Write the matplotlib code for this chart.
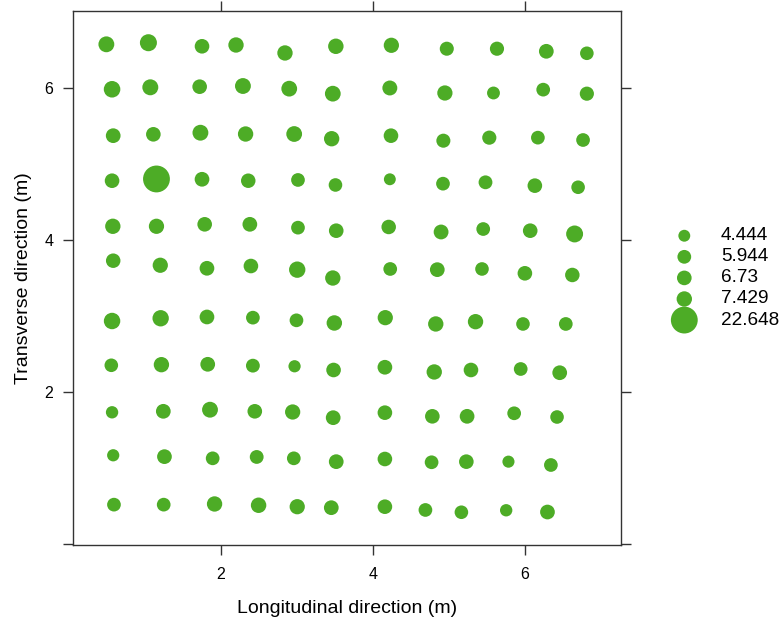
import matplotlib
matplotlib.use('Agg')
import matplotlib.pyplot as plt
import numpy as np

plt.rcParams['font.family'] = ['Liberation Sans', 'DejaVu Sans']

# coordinate del grigliato (m), riga per riga dall'alto
x_rows = [
    [0.496, 1.049, 1.754, 2.201, 2.845, 3.514, 4.244, 4.973, 5.633, 6.282, 6.815],
    [0.571, 1.074, 1.723, 2.292, 2.901, 3.474, 4.224, 4.948, 5.587, 6.241, 6.815],
    [0.586, 1.114, 1.733, 2.327, 2.966, 3.459, 4.239, 4.928, 5.532, 6.171, 6.765],
    [0.571, 1.155, 1.754, 2.362, 3.016, 3.509, 4.224, 4.923, 5.482, 6.131, 6.700],
    [0.581, 1.155, 1.789, 2.383, 3.016, 3.519, 4.209, 4.898, 5.452, 6.070, 6.654],
    [0.586, 1.205, 1.819, 2.397, 3.006, 3.474, 4.229, 4.848, 5.436, 6.000, 6.624],
    [0.571, 1.210, 1.819, 2.423, 2.996, 3.494, 4.164, 4.828, 5.351, 5.975, 6.538],
    [0.561, 1.220, 1.829, 2.423, 2.971, 3.484, 4.159, 4.808, 5.291, 5.945, 6.458],
    [0.571, 1.245, 1.859, 2.448, 2.946, 3.479, 4.159, 4.783, 5.240, 5.859, 6.423],
    [0.586, 1.260, 1.894, 2.473, 2.961, 3.519, 4.159, 4.773, 5.230, 5.784, 6.342],
    [0.596, 1.250, 1.919, 2.498, 3.006, 3.454, 4.159, 4.692, 5.165, 5.754, 6.297],
]
y_rows = [
    [6.575, 6.596, 6.549, 6.566, 6.461, 6.549, 6.562, 6.517, 6.517, 6.483, 6.457],
    [5.983, 6.009, 6.017, 6.026, 5.991, 5.925, 6.000, 5.934, 5.934, 5.978, 5.925],
    [5.372, 5.390, 5.411, 5.394, 5.394, 5.332, 5.372, 5.306, 5.346, 5.346, 5.315],
    [4.779, 4.802, 4.798, 4.779, 4.789, 4.723, 4.798, 4.740, 4.758, 4.714, 4.693],
    [4.179, 4.179, 4.205, 4.205, 4.161, 4.121, 4.170, 4.104, 4.143, 4.121, 4.078],
    [3.726, 3.666, 3.626, 3.656, 3.608, 3.498, 3.617, 3.608, 3.617, 3.560, 3.538],
    [2.932, 2.968, 2.985, 2.976, 2.941, 2.906, 2.976, 2.893, 2.923, 2.893, 2.893],
    [2.349, 2.357, 2.362, 2.344, 2.336, 2.287, 2.323, 2.261, 2.287, 2.300, 2.251],
    [1.730, 1.743, 1.764, 1.743, 1.734, 1.659, 1.725, 1.677, 1.677, 1.717, 1.668],
    [1.164, 1.146, 1.124, 1.142, 1.124, 1.080, 1.115, 1.072, 1.080, 1.080, 1.036],
    [0.514, 0.514, 0.523, 0.506, 0.487, 0.474, 0.487, 0.444, 0.414, 0.440, 0.417],
]
z_rows = [
    [7.9, 9.1, 6.7, 7.4, 7.4, 7.5, 7.3, 6.2, 6.3, 6.8, 5.8],
    [8.6, 8.0, 6.7, 7.9, 7.8, 7.8, 7.0, 7.3, 5.2, 5.9, 6.3],
    [6.8, 6.7, 7.9, 7.4, 7.8, 7.4, 6.7, 6.2, 6.3, 5.9, 5.9],
    [6.7, 22.648, 6.8, 6.6, 5.9, 5.8, 4.444, 5.9, 6.0, 6.7, 5.8],
    [7.4, 7.3, 6.7, 6.8, 5.9, 6.7, 6.6, 6.9, 5.9, 6.7, 9.0],
    [6.6, 7.3, 6.8, 6.7, 8.4, 7.4, 5.9, 6.8, 5.8, 6.7, 6.6],
    [8.5, 8.4, 6.8, 5.9, 5.9, 7.5, 7.3, 7.4, 7.4, 5.8, 5.9],
    [5.8, 7.4, 6.8, 6.0, 4.7, 6.7, 6.8, 7.4, 6.7, 5.9, 6.8],
    [4.8, 6.8, 7.9, 6.7, 7.3, 6.8, 6.7, 6.7, 6.8, 5.9, 5.8],
    [4.7, 6.8, 5.9, 6.0, 5.9, 6.8, 6.7, 5.9, 6.7, 4.6, 5.9],
    [5.9, 5.9, 7.4, 7.5, 7.3, 6.8, 6.7, 5.9, 5.8, 4.8, 6.8],
]
key_values = [4.444, 5.944, 6.73, 7.429, 22.648]
key_labels = ['4.444', '5.944', '6.73', '7.429', '22.648']

col = '#4DAC26'
scale = 16.5  # pt^2 per unita' di z

x = np.array(x_rows).ravel()
y = np.array(y_rows).ravel()
z = np.array(z_rows).ravel()

fig = plt.figure(figsize=(7.84, 6.2), dpi=100)
ax = fig.add_axes([0.0927, 0.121, 0.699, 0.8618])

ax.scatter(x, y, s=z * scale, c=col, linewidths=0)

ax.set_xlim(0.053, 7.26)
ax.set_ylim(-0.017, 7.018)
ax.set_xticks([2, 4, 6])
ax.set_yticks([0, 2, 4, 6])
ax.set_yticklabels(['', '2', '4', '6'])
ax.tick_params(axis='x', direction='out', length=7, width=1, color='#333333',
               top=True, labeltop=False, labelsize=11.5, pad=9)
ax.tick_params(axis='y', direction='out', length=7, width=1, color='#333333',
               right=True, labelright=False, labelsize=11.5, pad=7)
for sp in ax.spines.values():
    sp.set_color('#333333')
    sp.set_linewidth(1)

ax.set_xlabel('Longitudinal direction (m)', fontsize=14, labelpad=13)
ax.set_ylabel('Transverse direction (m)', fontsize=14, labelpad=9)

# legenda
kax = fig.add_axes([660 / 784, (620 - 330.6) / 620, 124 / 784, 105.4 / 620])
kax.set_xlim(0, 1)
kax.set_ylim(len(key_values) - 0.5, -0.5)
kax.axis('off')
pos = np.arange(len(key_values))
kax.scatter(np.full(len(pos), 0.196), pos, s=np.array(key_values) * scale,
            c=col, linewidths=0, clip_on=False)
for i, lab in enumerate(key_labels):
    kax.text(0.492, pos[i], lab, fontsize=13.7, ha='left', va='center')

fig.savefig('out.png', dpi=100)
